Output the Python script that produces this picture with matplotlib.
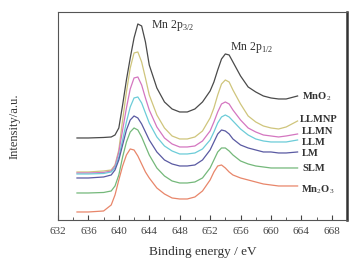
import matplotlib
matplotlib.use('Agg')
import matplotlib.pyplot as plt
from matplotlib.ticker import MultipleLocator

plt.rcParams['font.family'] = 'Liberation Serif'
plt.rcParams['mathtext.fontset'] = 'custom'
plt.rcParams['mathtext.rm'] = 'Liberation Serif'
plt.rcParams['mathtext.bf'] = 'Liberation Serif:bold'

# binding energy grid (eV)
energy = [634.5, 636, 638, 639, 639.5, 640, 640.5, 641, 641.5, 642, 642.5, 643, 643.5, 644,
          645, 646, 647, 648, 649, 650, 651, 652, 652.5, 653, 653.5, 654, 654.5, 655,
          656, 657, 658, 659, 660, 661, 662, 663.5]

mno2  = [82, 82, 82.5, 83, 85, 92, 115, 140, 162, 182, 196, 194, 178, 155, 132, 118, 111, 108,
         108, 111, 118, 129, 138, 150, 161, 166, 165, 158, 144, 133, 128, 124, 122, 121, 121, 124]
llmnp = [48, 48, 49, 50, 55, 70, 100, 128, 152, 167, 168, 158, 142, 125, 105, 92, 84, 81,
         81, 83, 89, 102, 112, 125, 136, 140, 138, 130, 116, 104, 98, 94, 92, 91, 93, 99]
llmn  = [47, 47, 47.5, 49, 54, 68, 90, 112, 131, 142, 143, 135, 122, 110, 93, 82, 76, 73,
         73, 74, 79, 89, 98, 108, 116, 118, 116, 110, 100, 92, 88, 85, 84, 83, 84, 86]
llm   = [46, 46, 46.5, 48, 52, 63, 80, 98, 113, 122, 123, 117, 107, 97, 83, 74, 69, 66,
         66, 67, 71, 80, 88, 97, 103, 105, 103, 99, 91, 85, 81, 79, 78, 78, 78, 80]
lm    = [42, 42, 43, 45, 50, 60, 75, 90, 100, 104, 102, 96, 88, 80, 68, 60, 56, 54,
         54, 55, 60, 70, 78, 86, 90, 89, 86, 81, 75, 72, 70, 68, 68, 67, 67, 68]
slm   = [27, 27, 27.5, 29, 34, 45, 63, 78, 88, 92, 90, 83, 74, 65, 52, 44, 39, 37,
         37, 38, 42, 52, 60, 68, 72, 72, 69, 65, 59, 56, 54, 53, 52, 52, 52, 52]
mn2o3 = [8, 8, 9, 15, 25, 40, 54, 65, 71, 70, 64, 56, 48, 42, 32, 26, 22, 21,
         21, 23, 29, 40, 48, 54, 55, 52, 48, 45, 42, 40, 38, 36, 35, 34, 34, 34]

names = ['MnO$_2$', 'LLMNP', 'LLMN', 'LLM', 'LM', 'SLM', 'Mn$_2$O$_3$']
label_x = [664.1, 663.8, 664.1, 664.1, 664.1, 664.2, 664.0]
label_y = [123, 100, 88.5, 77.5, 66.5, 51, 30]
colors = ['#4a4a4a', '#cfc57c', '#d476c0', '#6cccd8', '#5a5aa2', '#74b87a', '#e8866a']
series = [mno2, llmnp, llmn, llm, lm, slm, mn2o3]

fig = plt.figure(figsize=(3.6, 2.66), dpi=100)
ax = fig.add_axes([0.161, 0.173, 0.803, 0.782])

for y, c in zip(series, colors):
    ax.plot(energy, y, color=c, linewidth=0.9)

for name, lx, ly in zip(names, label_x, label_y):
    ax.text(lx, ly, name, fontsize=7.6, fontweight='bold', color='#333333',
            ha='left', va='center')

ax.text(644.2, 194, 'Mn 2p$_{3/2}$', fontsize=8.5, color='#333333', ha='left', va='center')
ax.text(654.6, 172, 'Mn 2p$_{1/2}$', fontsize=8.5, color='#333333', ha='left', va='center')

ax.set_xlim(632, 670)
ax.set_ylim(0, 208)
ax.xaxis.set_major_locator(MultipleLocator(4))
ax.xaxis.set_minor_locator(MultipleLocator(2))
ax.tick_params(axis='x', which='major', direction='in', length=3.5, labelsize=8,
               colors='#444444', pad=5)
ax.tick_params(axis='x', which='minor', direction='in', length=2, colors='#444444')
ax.set_yticks([])
ax.set_xlabel('Binding energy / eV', fontsize=9.5, color='#333333', labelpad=7)
ax.set_ylabel('Intensity/a.u.', fontsize=9, color='#333333')
ax.yaxis.set_label_coords(-0.13, 0.45)

for side in ['left', 'top', 'bottom']:
    ax.spines[side].set_color('#555555')
    ax.spines[side].set_linewidth(0.8)
ax.spines['right'].set_color('#333333')
ax.spines['right'].set_linewidth(1.8)

fig.savefig('out.png', dpi=100)
